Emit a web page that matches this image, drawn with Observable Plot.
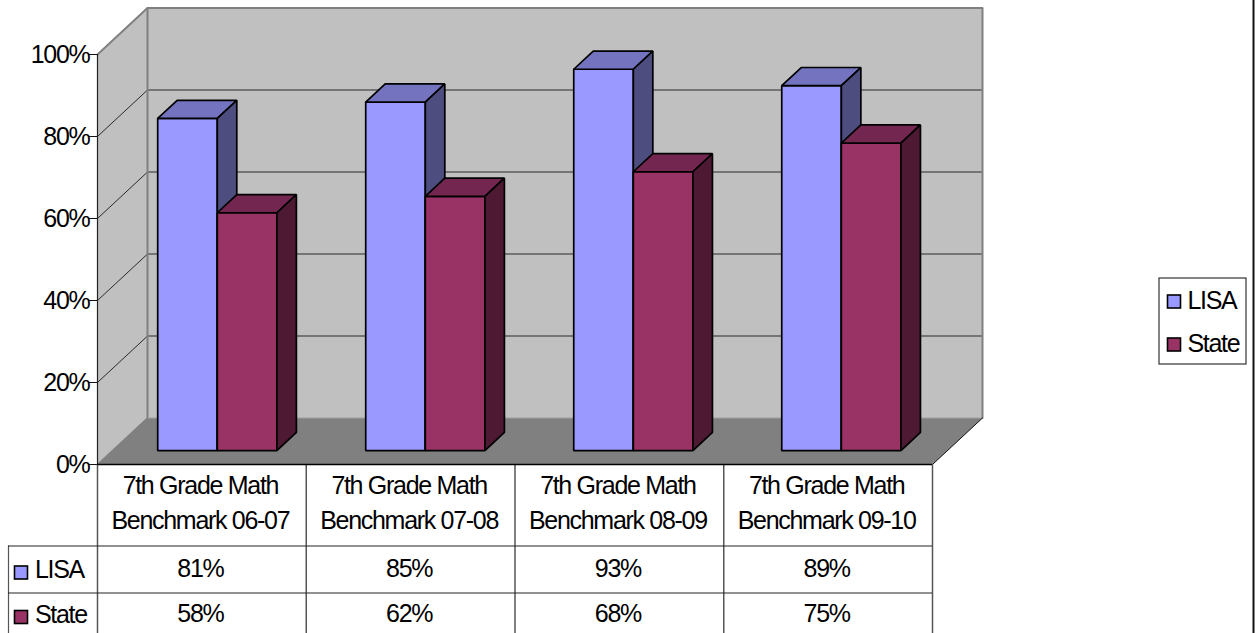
<!DOCTYPE html>
<html>
<head>
<meta charset="utf-8">
<script src="https://cdn.jsdelivr.net/npm/d3@7"></script>
<script src="https://cdn.jsdelivr.net/npm/@observablehq/plot@0.6"></script>
<style>
html,body{margin:0;padding:0;background:#fff;overflow:hidden}
svg{display:block}
</style>
</head>
<body>
<div id="chart"></div>
<script>
// ---- data ----
const categories = ["7th Grade Math\nBenchmark 06-07","7th Grade Math\nBenchmark 07-08","7th Grade Math\nBenchmark 08-09","7th Grade Math\nBenchmark 09-10"];
const lisaValues = [81,85,93,89];
const stateValues = [58,62,68,75];
const seriesNames = ["LISA","State"];
const yTicks = [0,20,40,60,80,100];

// ---- style ----
const FONT = "'Liberation Sans',Arial,sans-serif";
const FS = 25, LS = "-1.3px";
const palette = {
  LISA:{front:"#9999FF",top:"#7373BF",side:"#4D4D80"},
  State:{front:"#993366",top:"#732650",side:"#4D1933"}
};

// ---- frame geometry ----
const W=1257,H=633,L=97,R=932,T=54,B=464;
const pxX=p=>(p-L)/((R-L)/4);          // page px to x units
const pxY=p=>(B-p)/((B-T)/100);        // page px to y units
// oblique projection: depth z (0 front, 1 back wall)
const dxZ=50/((R-L)/4), dyZ=46.5/((B-T)/100);
const P=(x,y,z)=>({x:x+z*dxZ,y:y+z*dyZ});
const barZ0=0.3, barZ1=0.69, barW=0.2855, barStart=0.2165, barStep=0.9965;

const poly=(pts,fill,stroke,sw)=>Plot.line(pts,{x:"x",y:"y",curve:"linear-closed",fill,stroke,strokeWidth:sw,strokeLinejoin:"miter"});
const seg=(pts,stroke,sw)=>Plot.line(pts,{x:"x",y:"y",stroke,strokeWidth:sw});

// walls and floor
const walls=[
  poly([P(0,0,1),P(4,0,1),P(4,100,1),P(0,100,1)],"#C0C0C0","none",0),
  poly([P(0,0,0),P(0,0,1),P(0,100,1),P(0,100,0)],"#C0C0C0","none",0),
  poly([P(0,0,0),P(4,0,0),P(4,0,1),P(0,0,1)],"#808080","none",0)
];
const grid=yTicks.slice(1,-1).map(v=>seg([P(0,v,0),P(0,v,1),P(4,v,1)],"#2a2a2a",1));
const wallEdges=[
  seg([P(0,100,0),P(0,100,1),P(4,100,1),P(4,0,1)],"#808080",2),
  seg([P(0,100,1),P(0,0,1)],"#808080",2),
  seg([P(0,0,1),P(4,0,1)],"#a0a0a0",1),
  seg([P(0,0,0),P(0,0,1)],"#808080",1.5),
  seg([P(4,0,0),P(4,0,1)],"#111",1)
];

// bars
function bar(x0,x1,v,c){
  const sw=1.7;
  return [
    poly([P(x0,0,barZ0),P(x1,0,barZ0),P(x1,v,barZ0),P(x0,v,barZ0)],c.front,"#000",sw),
    poly([P(x0,v,barZ0),P(x1,v,barZ0),P(x1,v,barZ1),P(x0,v,barZ1)],c.top,"#000",sw),
    poly([P(x1,0,barZ0),P(x1,0,barZ1),P(x1,v,barZ1),P(x1,v,barZ0)],c.side,"#000",sw)
  ];
}
const bars=categories.flatMap((_,i)=>{
  const a=barStart+i*barStep;
  return [...bar(a,a+barW,lisaValues[i],palette.LISA),...bar(a+barW,a+2*barW,stateValues[i],palette.State)];
});

// data table
const rowLines=[545.5,592.5].map(pxY);
const colLines=[0,1,2,3,4];
const centers=categories.map((_,i)=>i+0.5-1.5/((R-L)/4));
const text=(rows,o)=>Plot.text(rows,{fontSize:FS,fill:"#000",...o});
const rowsOf=(vals,py)=>vals.map((v,i)=>({x:centers[i],y:pxY(py),t:v+"%"}));
const tableMarks=[
  Plot.ruleX(colLines,{y1:pxY(H),y2:0,stroke:"#555",strokeWidth:1.5}),
  Plot.ruleX([pxX(8)],{y1:pxY(H),y2:rowLines[0],stroke:"#555",strokeWidth:1.2}),
  Plot.ruleY(rowLines,{x1:pxX(8),x2:4,stroke:"#222",strokeWidth:1}),
  Plot.ruleY([0],{x1:0,x2:4,stroke:"#000",strokeWidth:1.5}),
  Plot.ruleX([0],{y1:0,y2:100,stroke:"#222",strokeWidth:1.2}),
  text(categories.map((c,i)=>({x:centers[i],y:pxY(500),t:c})),{x:"x",y:"y",text:"t",lineHeight:1.4}),
  text(rowsOf(lisaValues,568.5),{x:"x",y:"y",text:"t"}),
  text(rowsOf(stateValues,613.5),{x:"x",y:"y",text:"t"})
];
// series keys in table and legend
function keys(rows){
  return rows.flatMap(r=>[
    Plot.rect([r],{x1:d=>pxX(d.kx),x2:d=>pxX(d.kx+d.k),y1:d=>pxY(d.ky+d.k),y2:d=>pxY(d.ky),fill:d=>palette[d.n].front,stroke:"#000",strokeWidth:1.6,inset:0}),
    text([r],{x:d=>pxX(d.tx),y:d=>pxY(d.ty),text:"n",textAnchor:"start"})
  ]);
}
const tableKeys=keys([
  {n:seriesNames[0],kx:14.5,ky:566,k:13,tx:34.5,ty:569},
  {n:seriesNames[1],kx:14.5,ky:610.5,k:13,tx:34.5,ty:614}
]);
const legend=[
  Plot.rect([0],{x1:pxX(1159),x2:pxX(1246),y1:pxY(364),y2:pxY(278),fill:"#fff",stroke:"#333",strokeWidth:1.2}),
  ...keys([
    {n:seriesNames[0],kx:1167.5,ky:295,k:13,tx:1187,ty:300},
    {n:seriesNames[1],kx:1167.5,ky:338,k:13,tx:1187,ty:343}
  ])
];

const chart=Plot.plot({
  width:W,height:H,marginLeft:L,marginRight:W-R,marginTop:T,marginBottom:H-B,
  x:{domain:[0,4],axis:null},
  y:{domain:[0,100],axis:null},
  style:{fontFamily:FONT,letterSpacing:LS,background:"#fff",overflow:"visible"},
  marks:[
    ...walls,...grid,...wallEdges,
    Plot.axisY(yTicks,{anchor:"left",tickSize:8,tickPadding:0,fontSize:FS,label:null,tickFormat:d=>d+"%",stroke:"#111",fill:"#000"}),
    ...bars,
    ...tableMarks,...tableKeys,...legend,
    Plot.ruleX([pxX(1253)],{y1:pxY(H),y2:pxY(0),stroke:"#111",strokeWidth:2})
  ]
});
document.getElementById("chart").append(chart);
</script>
</body>
</html>
